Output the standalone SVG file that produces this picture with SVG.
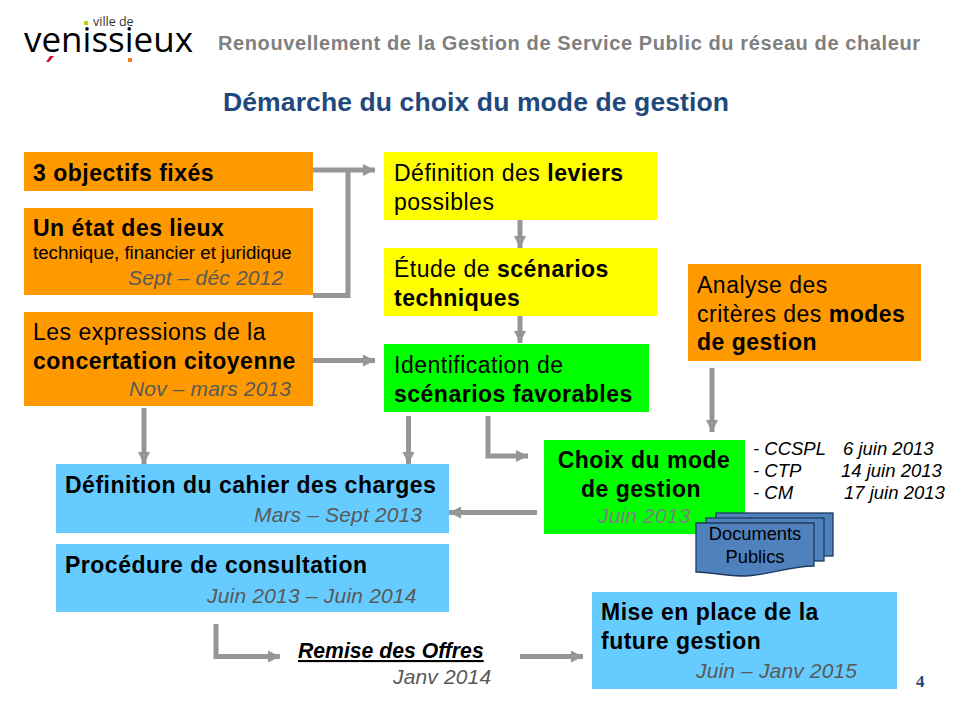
<svg xmlns="http://www.w3.org/2000/svg" width="960" height="720" viewBox="0 0 960 720">
<style>
text{font-family:"Liberation Sans",Arial,sans-serif;fill:#000}
.m{font-size:23px;letter-spacing:.5px}
.b{font-weight:bold}
.d{font-size:21px;font-style:italic;fill:#595959;letter-spacing:.15px}
.s{font-size:18.5px;font-style:italic}
.c{fill:none;stroke:#969696;stroke-width:5}
.c2{fill:none;stroke:#969696;stroke-width:5;marker-end:url(#a)}
.or{fill:#ff9900}.ye{fill:#ffff00}.gr{fill:#00ff00}.bl{fill:#66ccff}
.doc{fill:#4f81bd;stroke:#1f3a5f;stroke-width:1.3}
</style>
<defs>
<marker id="a" markerUnits="userSpaceOnUse" markerWidth="13" markerHeight="13" refX="12" refY="6.5" orient="auto"><path d="M0 .5L12 6.5L0 12.5Z" fill="#969696"/></marker>
</defs>
<g id="logo">
<rect x="84" y="21" width="4" height="4" fill="#c4d000"/>
<text x="93" y="26" style="font-family:'Open Sans',sans-serif;font-size:12.5px;fill:#333">ville de</text>
<text x="24" y="52" textLength="169" lengthAdjust="spacingAndGlyphs" style="font-family:'Open Sans',sans-serif;font-size:34px;font-weight:500">venissieux</text>
<path d="M50 56L54 56L49 62L46 62Z" fill="#d2122e"/>
<rect x="128" y="58" width="4" height="4" fill="#f08020"/>
</g>
<g id="header">
<text x="218" y="50" textLength="702" style="font-size:20px;font-weight:bold;fill:#7f7f7f">Renouvellement de la Gestion de Service Public du réseau de chaleur</text>
<text x="223" y="111" textLength="506" style="font-size:26.5px;font-weight:bold;fill:#1f497d">Démarche du choix du mode de gestion</text>
</g>
<g id="connectors">
<path class="c2" d="M313 170H375"/>
<path class="c" d="M313 295.500H348V170"/>
<path class="c2" d="M520 216V248"/>
<path class="c2" d="M520 312V343"/>
<path class="c2" d="M313 360.500H375"/>
<path class="c2" d="M144 408V464"/>
<path class="c2" d="M408.500 416V464"/>
<path class="c2" d="M488 416V456H528"/>
<path class="c2" d="M712 368V432"/>
<path class="c2" d="M537 512.500H449"/>
<path class="c2" d="M216 624V656.500H280"/>
<path class="c2" d="M520 656.500H583"/>
</g>
<g id="n1"><rect class="or" x="24" y="152" width="289" height="39"/><text class="m b" x="33" y="181">3 objectifs fixés</text></g>
<g id="n2"><rect class="or" x="24" y="208" width="289" height="87"/><text class="m b" x="33" y="236">Un état des lieux</text><text x="33" y="259" style="font-size:18.7px">technique, financier et juridique</text><text class="d" x="128" y="285">Sept – déc 2012</text></g>
<g id="n3"><rect class="or" x="24" y="312" width="289" height="94"/><text class="m" x="33" y="340">Les expressions de la</text><text class="m b" x="33" y="369">concertation citoyenne</text><text class="d" x="129" y="396">Nov – mars 2013</text></g>
<g id="n4"><rect class="ye" x="384" y="152" width="273" height="68"/><text class="m" x="394" y="181">Définition des <tspan class="b">leviers</tspan></text><text class="m" x="394" y="210">possibles</text></g>
<g id="n5"><rect class="ye" x="384" y="248" width="273" height="68"/><text class="m" x="394" y="277">Étude de <tspan class="b">scénarios</tspan></text><text class="m b" x="394" y="306">techniques</text></g>
<g id="n6"><rect class="gr" x="384" y="344" width="265" height="68"/><text class="m" x="394" y="373">Identification de</text><text class="m b" x="394" y="402">scénarios favorables</text></g>
<g id="n7"><rect class="or" x="688" y="264" width="233" height="97"/><text class="m" x="697" y="293">Analyse des</text><text class="m" x="697" y="322">critères des <tspan class="b">modes</tspan></text><text class="m b" x="697" y="350">de gestion</text></g>
<g id="n8"><rect class="gr" x="544" y="440" width="201" height="94"/><text class="m b" x="644" y="468" text-anchor="middle">Choix du mode</text><text class="m b" x="641" y="497" text-anchor="middle">de gestion</text><text class="d" x="598" y="523" style="fill:#7f7f7f">Juin 2013</text></g>
<g id="n9"><text class="s" x="753" y="455">- CCSPL</text><text class="s" x="843" y="455">6 juin 2013</text><text class="s" x="753" y="477">- CTP</text><text class="s" x="841" y="477">14 juin 2013</text><text class="s" x="753" y="499">- CM</text><text class="s" x="844" y="499">17 juin 2013</text></g>
<g id="n10">
<rect class="doc" x="716" y="513" width="117" height="43"/>
<rect class="doc" x="706" y="518" width="118" height="43"/>
<path class="doc" d="M696 523H814V566C790 566 770 575 745 576C725 576 710 572 696 572Z"/>
<text x="755" y="540" text-anchor="middle" style="font-size:18.3px">Documents</text><text x="755" y="563" text-anchor="middle" style="font-size:18.3px">Publics</text></g>
<g id="n11"><rect class="bl" x="56" y="464" width="393" height="69"/><text class="m b" x="65" y="493">Définition du cahier des charges</text><text class="d" x="254" y="522">Mars – Sept 2013</text></g>
<g id="n12"><rect class="bl" x="56" y="544" width="393" height="68"/><text class="m b" x="65" y="573">Procédure de consultation</text><text class="d" x="207" y="603" style="letter-spacing:.2px">Juin 2013 – Juin 2014</text></g>
<g id="n13"><text class="b" x="298" y="658" style="font-size:21.2px;font-style:italic;text-decoration:underline">Remise des Offres</text><text class="d" x="393" y="684">Janv 2014</text></g>
<g id="n14"><rect class="bl" x="592" y="592" width="305" height="97"/><text class="m b" x="601" y="620">Mise en place de la</text><text class="m b" x="601" y="649">future gestion</text><text class="d" x="696" y="678">Juin – Janv 2015</text></g>
<text id="page" x="916" y="687" style="font-family:'Liberation Serif',serif;font-size:17px;font-weight:bold;fill:#1f497d">4</text>
</svg>
